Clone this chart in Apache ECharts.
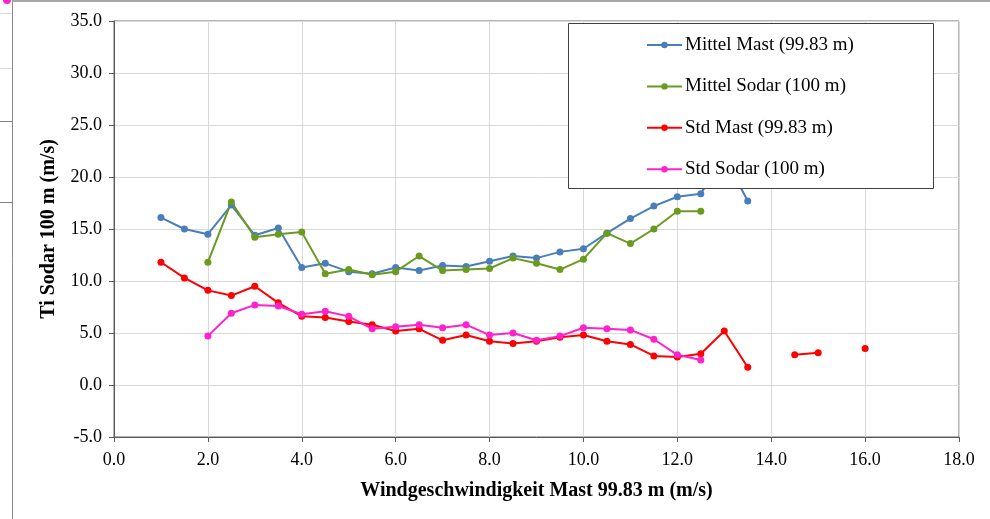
<!DOCTYPE html>
<html>
<head>
<meta charset="utf-8">
<script src="https://cdn.jsdelivr.net/npm/echarts@6/dist/echarts.min.js"></script>
<style>
  html, body { margin: 0; padding: 0; background: #fff; }
  #chart { width: 990px; height: 519px; }
</style>
</head>
<body>
<div id="chart"></div>
<script>
// Windgeschwindigkeit (m/s), Klassen in 0.5er Schritten
const speeds = [1.0, 1.5, 2.0, 2.5, 3.0, 3.5, 4.0, 4.5, 5.0, 5.5, 6.0, 6.5, 7.0, 7.5, 8.0, 8.5,
    9.0, 9.5, 10.0, 10.5, 11.0, 11.5, 12.0, 12.5, 13.0, 13.5, 14.0, 14.5, 15.0, 15.5, 16.0];

const mittelMast = [16.1, 15.0, 14.5, 17.3, 14.4, 15.1, 11.3, 11.7, 10.9, 10.7, 11.3, 11.0, 11.5, 11.4, 11.9, 12.4,
    12.2, 12.8, 13.1, 14.6, 16.0, 17.2, 18.1, 18.4, 22.0, 17.7, null, null, null, null, null];
const mittelSodar = [null, null, 11.8, 17.6, 14.2, 14.5, 14.7, 10.7, 11.1, 10.6, 10.9, 12.4, 11.0, 11.1, 11.2, 12.2,
    11.7, 11.1, 12.1, 14.6, 13.6, 15.0, 16.7, 16.7, null, null, null, null, null, null, null];
const stdMast = [11.8, 10.3, 9.1, 8.6, 9.5, 7.9, 6.6, 6.5, 6.1, 5.8, 5.2, 5.4, 4.3, 4.8, 4.2, 4.0,
    4.2, 4.6, 4.8, 4.2, 3.9, 2.8, 2.7, 3.0, 5.2, 1.7, null, 2.9, 3.1, null, 3.5];
const stdSodar = [null, null, 4.7, 6.9, 7.7, 7.6, 6.8, 7.1, 6.6, 5.4, 5.6, 5.8, 5.5, 5.8, 4.8, 5.0,
    4.3, 4.7, 5.5, 5.4, 5.3, 4.4, 2.9, 2.4, null, null, null, null, null, null, null];

const seriesNames = ["Mittel Mast (99.83 m)", "Mittel Sodar (100 m)", "Std Mast (99.83 m)", "Std Sodar (100 m)"];
const seriesColors = ["#4A7EBB", "#6B9B1E", "#FF0000", "#FF22CC"];

const FONT = "Liberation Serif";

function pairs(values) {
    return speeds.map((s, i) => [s, values[i]]);
}

function makeSeries(idx, values) {
    return {
        name: seriesNames[idx],
        type: "line",
        data: pairs(values),
        connectNulls: false,
        symbol: "circle",
        symbolSize: 7,
        showSymbol: true,
        color: seriesColors[idx],
        lineStyle: { width: 2, color: seriesColors[idx] },
        itemStyle: { color: seriesColors[idx] },
        emphasis: { disabled: true },
        animation: false,
        z: 2,
    };
}

var chart = echarts.init(document.getElementById("chart"));

chart.setOption({
    backgroundColor: "#fff",
    animation: false,
    grid: {
        left: 114,
        right: 31,
        top: 21,
        bottom: 82,
        show: true,
        borderColor: "#6b6b6b",
        borderWidth: 1,
    },
    xAxis: {
        type: "value",
        min: 0,
        max: 18,
        interval: 2,
        name: "Windgeschwindigkeit Mast 99.83 m (m/s)",
        nameLocation: "middle",
        nameGap: 44,
        nameTextStyle: { fontFamily: FONT, fontSize: 20, fontWeight: "bold", color: "#000" },
        axisLine: { show: true, onZero: false, lineStyle: { color: "#595959", width: 1 } },
        axisTick: { show: true, length: 5, lineStyle: { color: "#595959" } },
        axisLabel: {
            fontFamily: FONT,
            fontSize: 18,
            color: "#000",
            margin: 14,
            formatter: v => v.toFixed(1),
        },
        splitLine: { show: true, lineStyle: { color: "#d9d9d9", width: 1 } },
    },
    yAxis: {
        type: "value",
        min: -5,
        max: 35,
        interval: 5,
        name: "Ti Sodar 100 m (m/s)",
        nameLocation: "middle",
        nameGap: 55,
        nameTextStyle: { fontFamily: FONT, fontSize: 20, fontWeight: "bold", color: "#000" },
        axisLine: { show: true, onZero: false, lineStyle: { color: "#595959", width: 1 } },
        axisTick: { show: true, length: 5, lineStyle: { color: "#595959" } },
        axisLabel: {
            fontFamily: FONT,
            fontSize: 18,
            color: "#000",
            margin: 12,
            formatter: v => v.toFixed(1),
        },
        splitLine: { show: true, lineStyle: { color: "#d9d9d9", width: 1 } },
    },
    legend: {
        orient: "vertical",
        left: 646,
        top: 35,
        padding: 0,
        itemWidth: 35,
        itemHeight: 8,
        itemGap: 21.4,
        selectedMode: false,
        z: 6,
        textStyle: { fontFamily: FONT, fontSize: 19, color: "#000", lineHeight: 20, padding: [0, 0, 0, -2] },
        data: seriesNames,
    },
    graphic: [
        // Legendenrahmen
        {
            type: "rect",
            z: 5,
            shape: { x: 568.5, y: 23.5, width: 365, height: 165 },
            style: { fill: "#fff", stroke: "#404040", lineWidth: 1 },
        },
        // Reste des Nachbarfensters links / oben
        { type: "line", z: 1, shape: { x1: 12.5, y1: 0, x2: 12.5, y2: 519 }, style: { stroke: "#8a8a8a", lineWidth: 1 } },
        { type: "line", z: 1, shape: { x1: 12, y1: 1, x2: 990, y2: 1 }, style: { stroke: "#a6a6a6", lineWidth: 2 } },
        { type: "line", z: 1, shape: { x1: 0, y1: 13.5, x2: 12, y2: 13.5 }, style: { stroke: "#dcdcdc", lineWidth: 1 } },
        { type: "line", z: 1, shape: { x1: 0, y1: 68.5, x2: 12, y2: 68.5 }, style: { stroke: "#dcdcdc", lineWidth: 1 } },
        { type: "line", z: 1, shape: { x1: 0, y1: 121.5, x2: 12, y2: 121.5 }, style: { stroke: "#7f7f7f", lineWidth: 1 } },
        { type: "line", z: 1, shape: { x1: 0, y1: 202.5, x2: 12, y2: 202.5 }, style: { stroke: "#7f7f7f", lineWidth: 1 } },
        { type: "circle", z: 1, shape: { cx: 7, cy: 0, r: 4 }, style: { fill: "#FF22CC" } },
    ],
    series: [
        makeSeries(0, mittelMast),
        makeSeries(1, mittelSodar),
        makeSeries(2, stdMast),
        makeSeries(3, stdSodar),
    ],
});
</script>
</body>
</html>
